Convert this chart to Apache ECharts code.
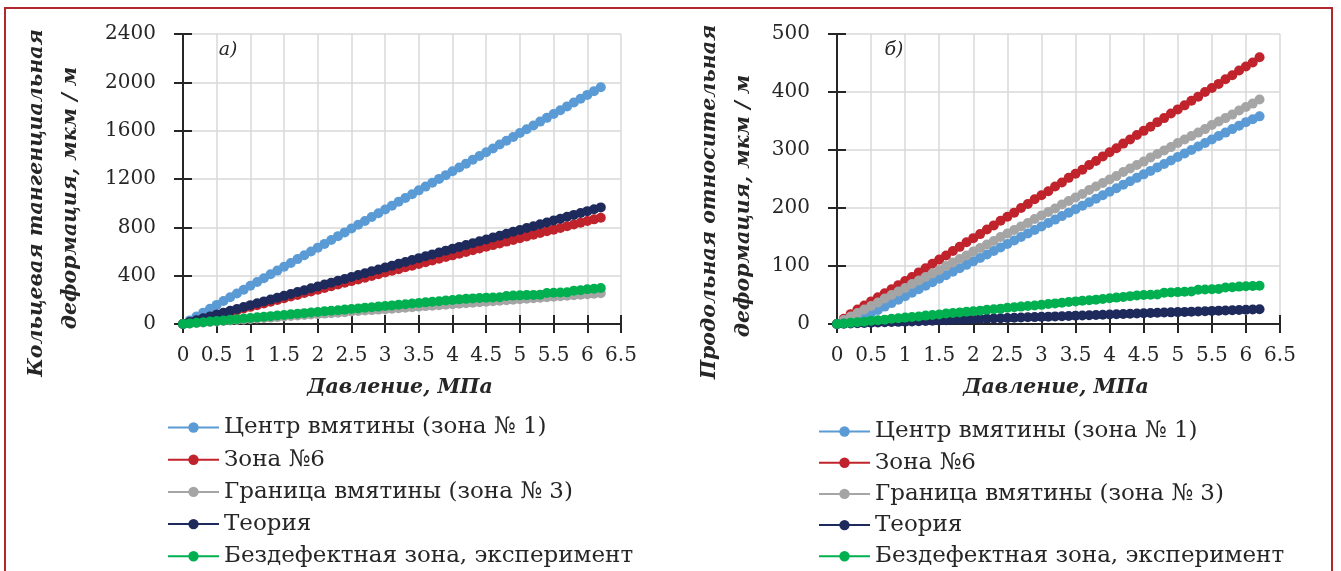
<!DOCTYPE html>
<html>
<head>
<meta charset="utf-8">
<script src="https://cdn.jsdelivr.net/npm/echarts@6/dist/echarts.min.js"></script>
<style>
  html, body { margin: 0; padding: 0; background: #fff; }
  #chart { width: 1341px; height: 571px; }
</style>
</head>
<body>
<div id="chart"></div>
<script>
// давление, МПа (шаг 0.1)
var pressure = [
  0, 0.1, 0.2, 0.3, 0.4, 0.5, 0.6, 0.7, 0.8, 0.9,
  1, 1.1, 1.2, 1.3, 1.4, 1.5, 1.6, 1.7, 1.8, 1.9,
  2, 2.1, 2.2, 2.3, 2.4, 2.5, 2.6, 2.7, 2.8, 2.9,
  3, 3.1, 3.2, 3.3, 3.4, 3.5, 3.6, 3.7, 3.8, 3.9,
  4, 4.1, 4.2, 4.3, 4.4, 4.5, 4.6, 4.7, 4.8, 4.9,
  5, 5.1, 5.2, 5.3, 5.4, 5.5, 5.6, 5.7, 5.8, 5.9,
  6, 6.1, 6.2
];

var seriesNames = ['Центр вмятины (зона № 1)', 'Зона №6', 'Граница вмятины (зона № 3)', 'Теория', 'Бездефектная зона, эксперимент'];
var seriesColors = ['#5b9bd5', '#c0232b', '#a5a5a5', '#1f2a5c', '#00b050'];

// а) кольцевая тангенциальная деформация
var ringZone1 = [
  0, 30, 62, 94, 126, 158, 190, 221, 253, 284,
  316, 347, 379, 411, 442, 474, 505, 537, 569, 600,
  632, 663, 695, 727, 758, 790, 821, 853, 885, 916,
  948, 979, 1011, 1043, 1074, 1106, 1137, 1169, 1201, 1232,
  1264, 1295, 1327, 1359, 1390, 1422, 1453, 1485, 1517, 1548,
  1580, 1611, 1643, 1675, 1706, 1738, 1769, 1801, 1833, 1864,
  1896, 1927, 1960
];
var ringZone6 = [
  0, 13, 27, 41, 56, 70, 85, 99, 113, 128,
  142, 156, 170, 185, 199, 213, 227, 241, 256, 270,
  284, 298, 312, 327, 341, 355, 369, 383, 398, 412,
  426, 440, 454, 469, 483, 497, 511, 525, 540, 554,
  568, 582, 596, 611, 625, 639, 653, 667, 682, 696,
  710, 724, 738, 753, 767, 781, 795, 809, 824, 838,
  852, 866, 880
];
var ringZone3 = [
  0, 4, 8, 12, 16, 21, 25, 29, 33, 37,
  41, 45, 49, 53, 57, 62, 66, 70, 74, 78,
  82, 86, 90, 94, 98, 103, 107, 111, 115, 119,
  123, 127, 131, 135, 139, 144, 148, 152, 156, 160,
  164, 168, 172, 176, 180, 185, 189, 193, 197, 201,
  205, 209, 213, 217, 221, 226, 230, 234, 238, 242,
  246, 250, 254
];
var ringTheory = [
  0, 16, 31, 47, 62, 78, 93, 109, 124, 140,
  156, 171, 187, 202, 218, 233, 249, 265, 280, 296,
  311, 327, 342, 358, 373, 389, 405, 420, 436, 451,
  467, 482, 498, 513, 529, 545, 560, 576, 591, 607,
  622, 638, 654, 669, 685, 700, 716, 731, 747, 763,
  778, 794, 809, 825, 840, 856, 871, 887, 903, 918,
  934, 949, 965
];
var ringIntact = [
  0, 5, 10, 15, 20, 25, 30, 35, 40, 45,
  50, 55, 60, 65, 70, 75, 80, 85, 90, 95,
  100, 105, 110, 114, 119, 124, 129, 134, 139, 144,
  149, 154, 159, 164, 169, 174, 179, 184, 189, 194,
  199, 204, 208, 212, 215, 218, 220, 222, 232, 235,
  237, 239, 241, 243, 256, 258, 260, 262, 276, 280,
  287, 292, 298
];

// б) продольная относительная деформация
var axialZone1 = [
  0, 3, 6, 10, 14, 19, 24, 30, 36, 42,
  48, 54, 60, 66, 72, 78, 84, 90, 96, 102,
  108, 114, 120, 126, 132, 138, 144, 150, 156, 162,
  168, 174, 180, 186, 192, 198, 204, 210, 216, 222,
  228, 234, 240, 246, 252, 258, 264, 270, 276, 282,
  288, 294, 300, 306, 312, 318, 324, 330, 336, 342,
  348, 353, 358
];
var axialZone6 = [
  0, 9, 17, 25, 32, 39, 46, 53, 60, 67,
  74, 81, 89, 96, 104, 111, 118, 126, 133, 141,
  148, 155, 163, 170, 178, 185, 192, 200, 207, 215,
  222, 229, 237, 244, 252, 259, 266, 274, 281, 289,
  296, 303, 311, 318, 326, 333, 340, 348, 355, 363,
  370, 377, 385, 392, 400, 407, 414, 422, 429, 437,
  444, 451, 460
];
var axialZone3 = [
  0, 7, 13, 19, 25, 31, 37, 44, 50, 56,
  62, 69, 75, 81, 87, 93, 100, 106, 112, 118,
  125, 131, 137, 143, 150, 156, 162, 168, 174, 181,
  187, 193, 199, 206, 212, 218, 224, 231, 237, 243,
  249, 255, 262, 268, 274, 280, 287, 293, 299, 305,
  312, 318, 324, 330, 336, 343, 349, 355, 361, 368,
  374, 380, 387
];
var axialTheory = [
  0, 0.4, 0.8, 1.2, 1.6, 2.1, 2.5, 2.9, 3.3, 3.7,
  4.1, 4.5, 4.9, 5.3, 5.7, 6.2, 6.6, 7, 7.4, 7.8,
  8.2, 8.6, 9, 9.4, 9.8, 10.3, 10.7, 11.1, 11.5, 11.9,
  12.3, 12.7, 13.1, 13.5, 13.9, 14.4, 14.8, 15.2, 15.6, 16,
  16.4, 16.8, 17.2, 17.6, 18, 18.5, 18.9, 19.3, 19.7, 20.1,
  20.5, 20.9, 21.3, 21.7, 22.1, 22.6, 23, 23.4, 23.8, 24.2,
  24.6, 25, 25.4
];
var axialIntact = [
  0, 1, 2, 3, 4, 5.5, 6.5, 7.5, 9, 10,
  11, 12, 13, 14.5, 15.5, 16.5, 18, 19, 20, 21,
  22, 23, 24.5, 25.5, 26.5, 28, 29, 30, 31, 32,
  33, 34.5, 35.5, 36.5, 38, 39, 40, 41, 42, 43,
  44.5, 45.5, 46.5, 48, 49, 50, 50.5, 51, 54, 54.5,
  55, 55.5, 56, 59, 59.5, 60, 60.5, 63, 63.5, 64.5,
  65, 65.5, 66
];

var xTicks = { min: 0, max: 6.5, interval: 0.5 };
var ringTicks = { min: 0, max: 2400, interval: 400 };
var axialTicks = { min: 0, max: 500, interval: 100 };

var serif = 'DejaVu Serif';
var ink = '#262626';

function pairs(ys) {
  return pressure.map(function (p, i) { return [p, ys[i]]; });
}

function makeSeries(grid, lists) {
  return lists.map(function (ys, k) {
    return {
      name: seriesNames[k],
      type: 'line',
      xAxisIndex: grid * 2,
      yAxisIndex: grid * 2,
      data: pairs(ys),
      symbol: 'circle',
      symbolSize: 10,
      color: seriesColors[k],
      lineStyle: { width: 2.5, color: seriesColors[k] },
      itemStyle: { color: seriesColors[k] }
    };
  });
}

function plain(v) { return String(v); }

function xAxes(grid) {
  return [
    {
      gridIndex: grid, type: 'value', min: xTicks.min, max: xTicks.max, interval: xTicks.interval,
      axisLine: { show: true, lineStyle: { color: ink, width: 2 } },
      axisTick: { show: true, length: 9, lineStyle: { color: ink, width: 2 } },
      axisLabel: { margin: 22, fontFamily: serif, fontSize: 20, color: ink, formatter: plain },
      splitLine: { show: true, lineStyle: { color: '#d9d9d9', width: 1.5 } }
    },
    {
      gridIndex: grid, type: 'value', position: 'bottom', min: xTicks.min, max: xTicks.max, interval: xTicks.interval,
      axisLine: { show: false },
      axisTick: { show: true, inside: true, length: 9, lineStyle: { color: ink, width: 2 } },
      axisLabel: { show: false },
      splitLine: { show: false }
    }
  ];
}

function yAxes(grid, t) {
  return [
    {
      gridIndex: grid, type: 'value', min: t.min, max: t.max, interval: t.interval,
      axisLine: { show: true, lineStyle: { color: ink, width: 2 } },
      axisTick: { show: true, length: 9, lineStyle: { color: ink, width: 2 } },
      axisLabel: { margin: 27, fontFamily: serif, fontSize: 20, color: ink, formatter: plain },
      splitLine: { show: true, lineStyle: { color: '#d9d9d9', width: 1.5 } }
    },
    {
      gridIndex: grid, type: 'value', position: 'left', offset: 0, min: t.min, max: t.max, interval: t.interval,
      axisLine: { show: false },
      axisTick: { show: true, inside: true, length: 9, lineStyle: { color: ink, width: 2 } },
      axisLabel: { show: false },
      splitLine: { show: false }
    }
  ];
}

function legendAt(left, top, gap) {
  return {
    data: seriesNames, orient: 'vertical', left: left, top: top, height: 220,
    padding: 0, itemWidth: 51, itemHeight: 13, itemGap: gap,
    textStyle: { fontFamily: serif, fontSize: 23, color: ink },
    selectedMode: false
  };
}

function label(x, y, text, font, rot) {
  return {
    type: 'text', x: x, y: y, rotation: rot || 0, silent: true,
    style: { text: text, font: font, fill: ink, align: 'center', verticalAlign: 'middle' }
  };
}

var titleFont = 'italic bold 20.5px "DejaVu Serif"';
var tagFont = 'italic 19px "DejaVu Serif"';

var chart = echarts.init(document.getElementById('chart'));
chart.setOption({
  animation: false,
  backgroundColor: '#fff',
  grid: [
    { left: 183, top: 34, width: 438, height: 290 },
    { left: 837, top: 34, width: 443, height: 290 }
  ],
  xAxis: xAxes(0).concat(xAxes(1)),
  yAxis: yAxes(0, ringTicks).concat(yAxes(1, axialTicks)),
  legend: [legendAt(167, 416, 9.2), legendAt(818, 420, 8.2)],
  series: makeSeries(0, [ringZone1, ringZone6, ringZone3, ringTheory, ringIntact])
    .concat(makeSeries(1, [axialZone1, axialZone6, axialZone3, axialTheory, axialIntact])),
  graphic: [
    { type: 'rect', silent: true, shape: { x: 5, y: 8, width: 1327, height: 640 },
      style: { fill: 'none', stroke: '#b0272d', lineWidth: 2 } },
    label(37, 203, 'Кольцевая тангенциальная', titleFont, Math.PI / 2),
    label(71, 198, 'деформация, мкм / м', titleFont, Math.PI / 2),
    label(400, 388, 'Давление, МПа', titleFont),
    label(228, 50, 'а)', tagFont),
    label(710, 202, 'Продольная относительная', titleFont, Math.PI / 2),
    label(744, 206, 'деформация, мкм / м', titleFont, Math.PI / 2),
    label(1056, 388, 'Давление, МПа', titleFont),
    label(894, 50, 'б)', tagFont)
  ]
});
</script>
</body>
</html>
